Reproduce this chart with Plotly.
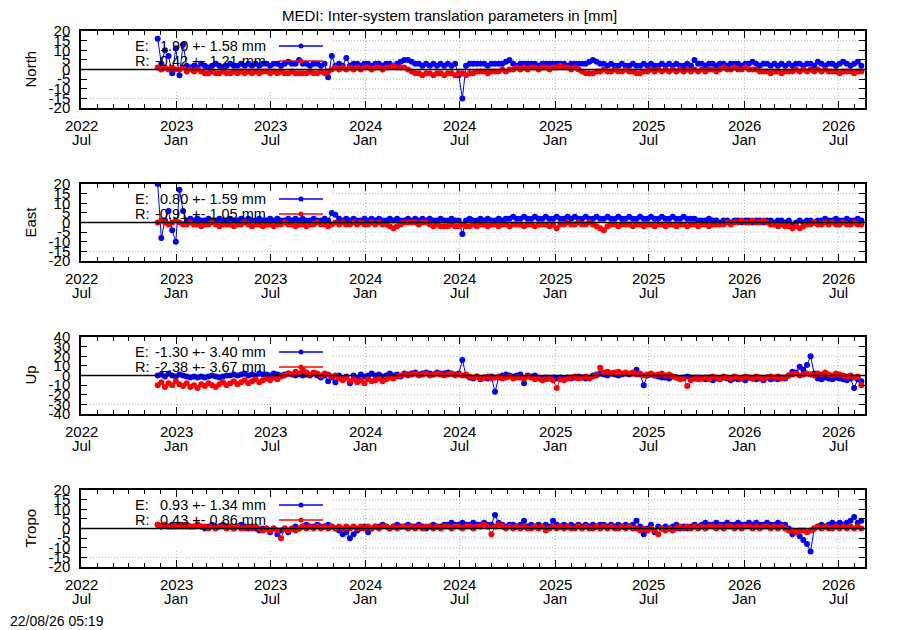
import pandas as pd
import plotly.graph_objects as go

# ---------------- data (weekly samples, mm) ----------------
start_date = "2022-11-26"
step = "7D"

north_E = [16, 3, 10, 7, -2, 11, -3, 13, 2, 1,
           2, 1, 3, 2, 1, 2, 3, 2, 1, 2,
           3, 2, 2, 3, 2, 3, 2, 3, 2, 3,
           3, 2, 3, 3, 2, 3, 4, 3, 3, 5,
           3, 3, 2, 3, 3, 2, 3, -4, 7, 2,
           3, 2, 6, 2, 3, 3, 2, 3, 3, 2,
           3, 3, 2, 3, 3, 2, 3, 4, 5, 5,
           4, 3, 3, 2, 3, 2, 3, 2, 3, 2,
           3, 2, 3, -3, -15, 2, 3, 3, 3, 3,
           3, 2, 3, 3, 3, 3, 4, 5, 3, 2,
           3, 3, 3, 3, 3, 2, 3, 3, 3, 3,
           3, 3, 3, 2, 3, 3, 3, 3, 3, 4,
           5, 4, 3, 3, 2, 3, 2, 2, 3, 2,
           2, 3, 2, 2, 3, 2, 3, 2, 2, 3,
           2, 3, 2, 3, 2, 2, 3, 2, 5, 3,
           3, 2, 3, 3, 2, 3, 3, 2, 3, 3,
           3, 2, 3, 3, 4, 3, 2, 3, 3, 2,
           3, 2, 3, 2, 3, 2, 3, 3, 2, 3,
           3, 2, 4, 3, 2, 3, 3, 2, 3, 4,
           3, 2, 3, 4, 2]
north_R = [1, 0, 1, 0, 1, 0, 0, 1, -1, 0,
           -1, 0, -1, -2, -2, -1, -2, -2, -1, -2,
           -2, -1, -2, -1, -2, -1, -2, -1, -2, -1,
           -1, -2, -1, -2, -1, -2, -2, -1, -2, -2,
           -2, -2, -1, -2, -2, -1, -2, -1, 0, 1,
           0, 1, 0, 1, 0, 1, 0, 1, 1, 0,
           1, 1, 0, 1, 1, 2, 1, 1, 1, 0,
           -1, -2, -2, -3, -2, -2, -3, -2, -2, -3,
           -2, -2, -3, -2, -2, -3, -2, -2, -1, -1,
           -1, -2, -1, -1, -1, 0, -1, 0, 0, 1,
           0, 1, 0, 1, 1, 0, 1, 1, 0, 1,
           1, 2, 1, 1, 0, 1, 0, -1, -2, -2,
           -2, -1, -1, 0, -1, -1, 0, -1, -1, 0,
           -1, -1, -2, -2, -1, -1, 0, -1, 0, -1,
           0, -1, 0, -1, 0, -1, 0, -1, 0, -1,
           0, -1, 0, 0, -1, 0, 1, 0, 0, 1,
           0, 0, 1, 0, 0, 0, -1, -1, -1, -2,
           -1, -1, -2, -1, -1, -1, 0, -1, 0, -1,
           0, -1, 0, -1, 0, -1, -1, -1, -2, -1,
           -1, -1, -2, -1, -1]
east_E = [20, -8, 1, 6, -4, -10, 17, 6, 1, 2,
          1, 2, 1, 1, 2, 1, 1, 2, 1, 1,
          2, 1, 1, 2, 1, 2, 1, 1, 2, 1,
          1, 2, 1, 2, 1, 1, 2, 1, 2, 1,
          2, 1, 1, 2, 1, 1, 2, 1, 5, 4,
          2, 1, 2, 1, 2, 1, 1, 2, 1, 2,
          1, 2, 1, 1, 2, 1, 2, 1, 1, 2,
          1, 2, 1, 2, 1, 2, 1, 1, 2, 1,
          1, 2, 1, 1, -6, 1, 2, 1, 1, 2,
          1, 2, 1, 1, 2, 1, 2, 2, 3, 2,
          2, 3, 2, 2, 3, 2, 2, 3, 2, 2,
          3, 2, 2, 3, 2, 3, 2, 2, 3, 2,
          2, 3, 2, 2, 3, 2, 2, 3, 2, 2,
          3, 2, 2, 3, 2, 2, 3, 2, 2, 3,
          2, 2, 3, 2, 2, 3, 2, 2, 2, 1,
          1, 1, 2, 1, 1, 0, 1, 1, 0, 1,
          1, 0, 1, 1, 0, 1, 1, 0, 1, 1,
          0, 1, 1, 0, 1, -1, 0, 1, 0, 1,
          1, 0, 1, 1, 2, 1, 1, 2, 1, 1,
          2, 1, 1, 2, 1]
east_R = [0, 1, 0, -1, 0, 1, 0, -1, -1, 0,
          -1, -1, -2, -1, -1, 0, -1, -2, -1, -1,
          -1, -2, -1, -1, 0, -1, -2, -1, -1, -2,
          -1, -1, -2, -1, -1, 0, -1, -1, -2, -1,
          -1, -2, -1, -1, 0, -1, -1, -2, -1, 0,
          -1, 0, -1, -1, 0, -1, 0, -1, -1, 0,
          -1, 0, -1, -1, -2, -3, -2, -1, 0, 0,
          0, 0, -1, 0, 0, -1, -2, -1, -2, -2,
          -2, -1, -2, -2, -1, -2, -2, -1, -2, -1,
          -1, -2, -1, -1, -2, -1, -1, -2, -1, -1,
          -1, -2, -1, -1, -2, -1, -1, -1, -2, -1,
          -3, -1, -1, 0, -1, -1, 0, -1, -1, 0,
          -1, -2, -3, -4, -2, -1, -1, -2, -1, -1,
          -1, -2, -1, -1, -2, -1, -1, -2, -1, -1,
          -2, -1, -1, -2, -1, -1, -2, -1, -1, -2,
          -1, -1, -2, -1, -1, -1, -1, 0, -1, 0,
          0, 1, 0, 0, 1, 0, 0, 1, 0, -1,
          -1, -2, -1, -2, -2, -3, -2, -3, -2, -1,
          -1, 0, -1, -1, 0, -1, 0, -1, -1, 0,
          -1, -1, 0, -1, -1]
up_E = [0, 1, -1, 2, 0, -1, 1, 0, -1, -2,
        -1, -2, -1, -2, -1, 0, -1, -2, -1, 0,
        0, 1, 0, 1, 2, 0, 1, 0, 2, 1,
        1, 0, 2, 1, 0, 1, 2, 1, 0, 1,
        0, 1, 0, 2, 0, -2, 0, -6, -2, -7,
        0, -4, -1, -8, 0, -2, 1, -1, 0, 2,
        0, 1, -1, 0, 2, 0, 1, -1, 2, 1,
        2, 3, 1, 2, 3, 2, 1, 3, 2, 2,
        3, 2, 1, 2, 16, 0, -2, -3, -1, -4,
        -2, -3, -1, -17, -2, 0, 1, 0, -1, 0,
        1, -8, 0, -1, 0, -2, -3, -2, -3, -2,
        -3, -2, -3, -2, -3, -2, -1, -2, -3, -2,
        0, 1, 2, 1, 0, 2, 1, 0, 1, 2,
        1, 2, 6, 1, -10, 0, 1, 0, -1, -2,
        -2, -3, -1, -2, -3, -2, -1, -2, -3, -2,
        -3, -4, -2, -5, -3, -4, -2, -3, -5, -3,
        -4, -3, -5, -2, -3, -4, -3, -5, -2, -4,
        -3, -4, -2, -3, 0, 4, 3, 9, 6, 11,
        20, 2, -3, -4, -2, -3, -4, -2, -3, -4,
        -5, -3, -13, -4, -6]
up_R = [-10, -7, -12, -8, -10, -6, -9, -11, -8, -12,
        -10, -13, -9, -11, -8, -10, -12, -9, -7, -10,
        -8, -6, -9, -7, -5, -8, -6, -4, -7, -5,
        -3, -5, -2, -4, -1, 0, 2, 1, 4, 2,
        6, 3, 1, 3, 2, 0, 2, 1, -1, 0,
        -3, -5, -2, -6, -4, -7, -5, -8, -4, -6,
        -5, -3, -6, -4, -2, -3, -1, 0, 1, 0,
        1, 2, 0, 1, 2, 0, 1, 2, 1, 0,
        1, 2, 0, 1, 0, 1, -1, -2, -1, -3,
        -2, -1, -3, -2, -1, -3, -2, -1, -3, -2,
        -2, -3, -1, -2, -4, -3, -5, -4, -3, -5,
        -13, -4, -5, -3, -2, -1, -3, -2, -1, -3,
        -1, 0, 8, 3, 4, 2, 3, 4, 2, 3,
        2, 3, 1, 2, 0, 1, 2, 0, 1, 2,
        0, 1, -1, -2, -4, -3, -11, -5, -2, -4,
        -3, -2, -4, -1, -2, -3, -1, -2, -3, -1,
        -2, -3, -1, -2, -3, -1, -2, -3, -2, -1,
        -2, -1, -3, -2, 0, 1, 2, 0, 1, 2,
        1, 0, 2, 1, 3, 1, 0, 2, 1, 0,
        -1, 0, -2, -1, -10]
tropo_E = [2, 1, 2, 1, 2, 1, 2, 1, 2, 1,
           1, 2, 1, 0, 1, 2, 1, 1, 2, 1,
           1, 0, 1, 2, 1, 0, 1, 0, -1, 0,
           0, -2, 0, -3, -1, 0, -2, 0, 1, 0,
           1, 2, 1, 1, 2, 1, 1, 2, 1, 0,
           -1, -3, -2, -5, -3, -1, 0, 1, -2, 0,
           1, 1, 2, 1, 0, 1, 2, 1, 1, 2,
           1, 1, 2, 1, 0, 1, 2, 1, 1, 2,
           2, 3, 2, 2, 3, 2, 2, 3, 2, 2,
           3, 2, 2, 7, 3, 2, 1, 2, 2, 1,
           2, 4, 1, 2, 1, 2, 1, 2, 1, 4,
           2, 1, 2, 1, 2, 1, 2, 1, 2, 1,
           2, 1, 2, 2, 1, 2, 1, 2, 1, 2,
           1, 2, 4, 1, -3, 0, 2, -2, 1, 0,
           1, 0, 1, 2, 0, 1, 0, 1, 2, 1,
           2, 3, 2, 2, 3, 2, 2, 3, 2, 2,
           3, 2, 2, 3, 2, 3, 2, 2, 3, 2,
           2, 3, 2, 2, 0, -3, -2, -4, -6, -8,
           -12, 0, 1, 2, 1, 2, 3, 2, 3, 2,
           3, 4, 6, 3, 4]
tropo_R = [2, 1, 2, 1, 1, 2, 1, 2, 1, 1,
           1, 2, 1, 1, 0, 1, 0, 1, 1, 0,
           1, 0, 1, 0, 0, 1, 0, 1, 0, -1,
           0, -1, 0, -1, -5, 0, -1, 0, -1, 0,
           1, 0, 1, 0, 1, 0, 1, 0, 1, 0,
           1, 0, 1, 0, 1, 0, 1, 0, 1, 0,
           1, 0, 1, 1, 0, 1, 0, 1, 1, 0,
           1, 0, 1, 0, 1, 1, 0, 1, 0, 1,
           1, 0, 1, 1, 0, 1, 1, 0, 1, 1,
           2, 1, -3, 1, 2, 1, 0, 1, 0, 1,
           0, 1, 0, 0, 1, 0, 1, -1, 0, 1,
           0, 1, 0, 1, 0, 0, 1, 0, 1, 0,
           0, 1, 0, 1, 0, 1, 0, 0, 1, 0,
           1, 0, 0, -1, 0, -1, 0, -1, -3, 0,
           -1, 0, -1, 0, 1, 0, 1, 0, 1, 0,
           1, 0, 1, 1, 0, 1, 0, 1, 1, 0,
           1, 0, 1, 1, 0, 1, 0, 1, 1, 0,
           1, 0, 1, 0, -1, -1, -2, -1, -1, -2,
           -1, 0, 1, 0, 1, 0, 0, 1, 0, 1,
           0, 1, 0, 1, 0]

panel_names = ["North", "East", "Up", "Tropo"]
series_E = [north_E, east_E, up_E, tropo_E]
series_R = [north_R, east_R, up_R, tropo_R]
stats_E = ["1.90 +- 1.58 mm", "0.80 +- 1.59 mm", "-1.30 +- 3.40 mm", "0.93 +- 1.34 mm"]
stats_R = ["-0.42 +- 1.21 mm", "-0.91 +- 1.05 mm", "-2.38 +- 3.67 mm", "0.43 +- 0.86 mm"]
y_limits = [20, 20, 40, 20]
y_steps = [5, 5, 10, 5]

tick_dates = ["2022-07-01", "2023-01-01", "2023-07-01", "2024-01-01", "2024-07-01",
              "2025-01-01", "2025-07-01", "2026-01-01", "2026-07-01"]
tick_years = ["2022", "2023", "2023", "2024", "2024", "2025", "2025", "2026", "2026"]
tick_months = ["Jul", "Jan", "Jul", "Jan", "Jul", "Jan", "Jul", "Jan", "Jul"]
x_start, x_end = "2022-07-01", "2026-08-22"

title_text = "MEDI: Inter-system translation parameters in [mm]"
stamp_text = "22/08/26 05:19"

# ---------------- layout geometry ----------------
W, H = 900, 630
FONT = "Liberation Sans, Arial, sans-serif"
BLUE, RED = "#0000ff", "#ff0000"
GRID = "#b4b4b4"
left_px, right_px = 81, 865
panel_tops = [31, 184, 337, 490]
panel_h = 77
key_right = (332 - left_px) / (right_px - left_px)

minor_vals = [d.strftime("%Y-%m-%d") for d in pd.date_range(x_start, x_end, freq="MS")]

fig = go.Figure()
layout = dict(width=W, height=H, autosize=False,
              margin=dict(l=0, r=0, t=0, b=0, pad=0, autoexpand=False),
              paper_bgcolor="white", plot_bgcolor="white", showlegend=False,
              font=dict(family=FONT, size=15, color="black"))
shapes, annotations = [], []


def py(px):
    return 1 - px / H


def txt(text, x, y, xanchor="center", size=15, **kw):
    d = dict(text=text, x=x, y=y, xref=kw.pop("xref", "paper"), yref="paper",
             xanchor=xanchor, yanchor="middle", showarrow=False,
             font=dict(size=size, family=FONT, color="black"))
    d.update(kw)
    return d


for k in range(4):
    sfx = "" if k == 0 else str(k + 1)
    xa, ya = "x" + sfx, "y" + sfx
    dates_E = pd.date_range(start_date, periods=len(series_E[k]), freq=step)
    dates_R = pd.date_range(start_date, periods=len(series_R[k]), freq=step)
    fig.add_trace(go.Scatter(x=dates_E, y=series_E[k], xaxis=xa, yaxis=ya,
                             mode="lines+markers", line=dict(color=BLUE, width=1),
                             marker=dict(color=BLUE, size=6), hoverinfo="skip"))
    fig.add_trace(go.Scatter(x=dates_R, y=series_R[k], xaxis=xa, yaxis=ya,
                             mode="lines+markers", line=dict(color=RED, width=1),
                             marker=dict(color=RED, size=6), hoverinfo="skip"))
    top = panel_tops[k]
    bot = top + panel_h
    lim, stp = y_limits[k], y_steps[k]
    yt = list(range(-lim, lim + 1, stp))
    layout["xaxis" + sfx] = dict(
        domain=[left_px / W, right_px / W], anchor=ya, type="date",
        range=[x_start, x_end], automargin=False,
        tickmode="array", tickvals=tick_dates, showticklabels=False,
        ticks="inside", ticklen=7, tickwidth=1, tickcolor="black",
        showline=True, linecolor="black", linewidth=1.5, mirror="ticks",
        showgrid=False, zeroline=False,
        minor=dict(tickmode="array", tickvals=minor_vals, ticks="inside", ticklen=4,
                   tickcolor="black", tickwidth=1, showgrid=False),
    )
    layout["yaxis" + sfx] = dict(
        domain=[py(bot), py(top)], anchor=xa, range=[-lim, lim], automargin=False,
        tickmode="array", tickvals=yt, ticktext=[str(v) for v in yt],
        ticks="inside", ticklen=6, tickwidth=1, tickcolor="black",
        showline=True, linecolor="black", linewidth=1.5, mirror="ticks",
        showgrid=False, zeroline=False, ticklabelstandoff=6,
        tickfont=dict(size=15, family=FONT, color="black"),
    )
    # dotted grid (drawn as shapes so the key box can hide part of it)
    for v in yt[1:-1]:
        if v == 0:
            continue
        shapes.append(dict(type="line", xref=xa + " domain", yref=ya, x0=0, x1=1, y0=v, y1=v,
                           line=dict(color=GRID, width=1, dash="1px,2px"), layer="below"))
    for d in tick_dates[1:]:
        shapes.append(dict(type="line", xref=xa, yref=ya + " domain", x0=d, x1=d, y0=0, y1=1,
                           line=dict(color=GRID, width=1, dash="1px,2px"), layer="below"))
    # opaque key box
    shapes.append(dict(type="rect", xref=xa + " domain", yref=ya + " domain",
                       x0=0, x1=key_right, y0=0.21, y1=1, fillcolor="white",
                       line=dict(width=0), layer="below"))
    # zero line
    shapes.append(dict(type="line", xref=xa + " domain", yref=ya, x0=0, x1=1,
                       y0=0, y1=0, line=dict(color="black", width=1.5), layer="above"))
    # key entries
    for row, (lab, s, col) in enumerate([("E:", stats_E[k], BLUE), ("R:", stats_R[k], RED)]):
        ypx = top + 15 + 15 * row
        annotations.append(txt(lab, 133 / W, py(ypx), xanchor="left", size=14.5))
        annotations.append(txt(s, 268 / W, py(ypx), xanchor="right", size=14.5))
        shapes.append(dict(type="line", xref="paper", yref="paper", x0=279 / W, x1=323 / W,
                           y0=py(ypx), y1=py(ypx), line=dict(color=col, width=1.5), layer="above"))
        shapes.append(dict(type="circle", xref="paper", yref="paper", xsizemode="pixel",
                           ysizemode="pixel", xanchor=301 / W, yanchor=py(ypx),
                           x0=-2.5, x1=2.5, y0=-2.5, y1=2.5, fillcolor=col,
                           line=dict(color=col, width=0), layer="above"))
    # x tick labels: year over month
    for d, yr, mo in zip(tick_dates, tick_years, tick_months):
        annotations.append(txt(yr, d, py(bot + 17.5), xref=xa))
        annotations.append(txt(mo, d, py(bot + 31), xref=xa))
    # y title
    annotations.append(txt(panel_names[k], 30 / W, py(top + panel_h / 2), textangle=-90))

annotations.append(txt(title_text, 449.5 / W, py(15)))
annotations.append(txt(stamp_text, 8 / W, py(621), xanchor="left", size=14))

layout["shapes"] = shapes
layout["annotations"] = annotations
fig.update_layout(**layout)
fig.write_html("out.html",
               config={"displayModeBar": False, "responsive": False},
               post_script="document.documentElement.style.margin='0';"
                           "document.body.style.margin='0';"
                           "document.body.style.padding='0';"
                           "document.body.style.overflow='hidden';")
